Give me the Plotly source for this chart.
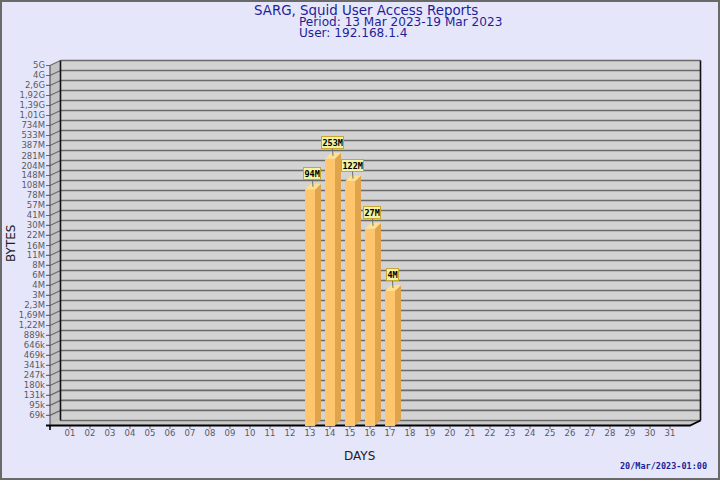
import numpy as np
import plotly.graph_objects as go

# ---------------- data ----------------
days = list(range(1, 32))
day_labels = ["01", "02", "03", "04", "05", "06", "07", "08", "09", "10",
              "11", "12", "13", "14", "15", "16", "17", "18", "19", "20",
              "21", "22", "23", "24", "25", "26", "27", "28", "29", "30", "31"]

y_tick_labels = ["5G", "4G", "2,6G", "1,92G", "1,39G", "1,01G", "734M", "533M", "387M",
                 "281M", "204M", "148M", "108M", "78M", "57M", "41M", "30M", "22M",
                 "16M", "11M", "8M", "6M", "4M", "3M", "2,3M", "1,69M", "1,22M",
                 "889k", "646k", "469k", "341k", "247k", "180k", "131k", "95k", "69k"]
y_tick_values = [5.0e9, 3.63e9, 2.64e9, 1.916e9, 1.392e9, 1.011e9, 734e6, 533e6, 387e6,
                 281e6, 204e6, 148.4e6, 107.8e6, 78.3e6, 56.9e6, 41.3e6, 30.0e6, 21.8e6,
                 15.8e6, 11.5e6, 8.35e6, 6.07e6, 4.41e6, 3.2e6, 2.32e6, 1.687e6, 1.225e6,
                 890e3, 647e3, 470e3, 341e3, 248e3, 180e3, 131e3, 95.1e3, 69.1e3]

bar_days = [13, 14, 15, 16, 17]
bar_bytes = [94e6, 253e6, 122e6, 27e6, 3.7e6]
bar_labels = ["94M", "253M", "122M", "27M", "4M"]

# ---------------- geometry / style ----------------
FLOOR = 5e4
TOP = 5e9
PX_PER_DEC = 72.0
PX_PER_DAY = 20.0
k5 = 10 ** (5 / PX_PER_DEC)     # wall depth (vertical)
WALL_DX = 0.525                 # wall depth (horizontal, days)
k6 = 10 ** (6 / PX_PER_DEC)     # bar depth (vertical)
kt = 10 ** (-3.5 / PX_PER_DEC)  # x tick length (downwards)
BAR_DX = 0.3                    # bar depth (horizontal, days)
BAR_W = 0.5

L, T = 46, 57
PLOT_W, PLOT_H = 657, 373
R = 720 - L - PLOT_W
B = 480 - T - PLOT_H
x_range = [-0.2, -0.2 + PLOT_W / PX_PER_DAY]
y_top_log = np.log10(TOP) + (65.5 - T) / PX_PER_DEC
y_range = [y_top_log - PLOT_H / PX_PER_DEC, y_top_log]

GRID = "#6a6a6a"
BACK = "#d3d3d3"
WALL = "#c2c2c2"
FLOORC = "#c9c9c9"
NAVY = "#1e1e98"
BG = "#e6e6fa"

fig = go.Figure()

def poly(xs, ys, color, axis=("x", "y")):
    fig.add_trace(go.Scatter(x=xs, y=ys, mode="lines", fill="toself", fillcolor=color,
                             line=dict(width=0), hoverinfo="skip", showlegend=False,
                             xaxis=axis[0], yaxis=axis[1]))

def lines(xs, ys, color, width, axis=("x", "y")):
    fig.add_trace(go.Scatter(x=xs, y=ys, mode="lines", line=dict(color=color, width=width),
                             hoverinfo="skip", showlegend=False, connectgaps=False,
                             xaxis=axis[0], yaxis=axis[1]))

xb0, xb1 = WALL_DX, 32 + WALL_DX
# back plane, left wall, floor
poly([xb0, xb1, xb1, xb0], [FLOOR * k5, FLOOR * k5, TOP * k5, TOP * k5], BACK)
poly([0, xb0, xb0, 0], [FLOOR, FLOOR * k5, TOP * k5, TOP], WALL)
poly([0, 32, xb1, xb0], [FLOOR, FLOOR, FLOOR * k5, FLOOR * k5], FLOORC)

# back grid lines
gx, gy = [], []
for t in y_tick_values:
    gx += [xb0, xb1, None]
    gy += [t * k5, t * k5, None]
gx += [xb0, xb1, None]
gy += [FLOOR * k5, FLOOR * k5, None]
lines(gx, gy, GRID, 1.6)

# front ticks + slanted wall lines
sx, sy = [], []
for t in y_tick_values:
    sx += [-0.2, 0, xb0, None]
    sy += [t, t, t * k5, None]
lines(sx, sy, GRID, 1.2)

# x ticks under the floor
tx, ty = [], []
for d in days:
    tx += [d, d, None]
    ty += [FLOOR, FLOOR * kt, None]
lines(tx, ty, "#777777", 1)

# front y axis line
lines([0, 0], [FLOOR, TOP], "#555555", 1.2)
# back plane edges
lines([xb0, xb0], [FLOOR * k5, TOP * k5], "#111111", 1.6)
lines([xb1, xb1], [FLOOR * k5, TOP * k5], "#111111", 1.6)
# floor front edge and right slant, corner tick
lines([-0.2, 32, xb1], [FLOOR, FLOOR, FLOOR * k5], "#000000", 1.8)
lines([0, 0], [FLOOR, FLOOR * kt * kt], "#000000", 1.6)

# ---------------- bars (overlay subplot, drawn above) ----------------
ax2 = ("x2", "y2")
fig.add_trace(go.Bar(x=bar_days, y=[v - FLOOR for v in bar_bytes], base=FLOOR, width=BAR_W,
                     marker=dict(color="#ffc66e", line=dict(width=0)),
                     hoverinfo="skip", showlegend=False, xaxis="x2", yaxis="y2"))
side_x, side_y, top_x, top_y = [], [], [], []
for d, v in zip(bar_days, bar_bytes):
    xr = d + BAR_W / 2
    xl = d - BAR_W / 2
    side_x += [xr, xr, xr + BAR_DX, xr + BAR_DX, xr, None]
    side_y += [FLOOR, v, v * k6, FLOOR * k6, FLOOR, None]
    top_x += [xl, xr, xr + BAR_DX, xl + BAR_DX, xl, None]
    top_y += [v, v, v * k6, v * k6, v, None]
poly(side_x, side_y, "#e0a44c", ax2)
poly(top_x, top_y, "#ffe08c", ax2)

annotations = []
for d, v, lab in zip(bar_days, bar_bytes, bar_labels):
    annotations.append(dict(
        x=d + BAR_DX / 2, y=np.log10(v * 10 ** (3 / PX_PER_DEC)), xref="x2", yref="y2",
        text="<b>" + lab + "</b>", showarrow=True, arrowhead=0, arrowwidth=1,
        arrowcolor="#707070", ax=-1, ay=-13, bgcolor="#f2f2a6", bordercolor="#c8a830",
        borderwidth=1, borderpad=0.5,
        font=dict(family="DejaVu Sans Mono", size=8.5, color="#000000")))

def px2paper(px, py):
    return (px - L) / PLOT_W, (T + PLOT_H - py) / PLOT_H

for txt, (px, py), anchor, size in [
    ("SARG, Squid User Access Reports", (365.5, 10.5), "center", 13.4),
    ("Period: 13 Mar 2023-19 Mar 2023", (297.5, 22), "left", 12.1),
    ("User: 192.168.1.4", (297.5, 33), "left", 12.1),
]:
    xp, yp = px2paper(px, py)
    annotations.append(dict(x=xp, y=yp, xref="paper", yref="paper", text=txt, showarrow=False,
                            xanchor=anchor, yanchor="middle", borderpad=0,
                            font=dict(family="DejaVu Sans", size=size, color=NAVY)))

xp, yp = px2paper(11, 244)
annotations.append(dict(x=xp, y=yp, xref="paper", yref="paper", text="BYTES", textangle=-90,
                        showarrow=False, xanchor="center", yanchor="middle",
                        font=dict(family="DejaVu Sans", size=12, color="#202020")))
xp, yp = px2paper(359.5, 455.5)
annotations.append(dict(x=xp, y=yp, xref="paper", yref="paper", text="DAYS",
                        showarrow=False, xanchor="center", yanchor="middle",
                        font=dict(family="DejaVu Sans", size=12, color="#202020")))
xp, yp = px2paper(708.5, 466)
annotations.append(dict(x=xp, y=yp, xref="paper", yref="paper", text="<b>20/Mar/2023-01:00</b>",
                        showarrow=False, xanchor="right", yanchor="middle",
                        font=dict(family="DejaVu Sans Mono", size=8.5, color=NAVY)))

fig.update_layout(
    width=720, height=480,
    margin=dict(l=L, r=R, t=T, b=B, pad=0, autoexpand=False),
    paper_bgcolor=BG, plot_bgcolor="rgba(0,0,0,0)",
    showlegend=False, bargap=0,
    xaxis=dict(range=x_range, tickvals=days, ticktext=day_labels, ticks="",
               showgrid=False, zeroline=False, showline=False,
               ticklabelstandoff=-4, automargin=False,
               tickfont=dict(family="DejaVu Sans", size=8.5, color="#5a5a5a"), fixedrange=True),
    yaxis=dict(type="log", range=y_range, tickvals=y_tick_values, ticktext=y_tick_labels,
               ticks="", showgrid=False, zeroline=False, showline=False, automargin=False,
               tickfont=dict(family="DejaVu Sans", size=8.5, color="#5a5a5a"), fixedrange=True),
    xaxis2=dict(range=x_range, overlaying="x", anchor="y2", visible=False, fixedrange=True),
    yaxis2=dict(type="log", range=y_range, overlaying="y", anchor="x2", visible=False, fixedrange=True),
    annotations=annotations,
    shapes=[dict(type="rect", xref="paper", yref="paper", xsizemode="pixel", ysizemode="pixel",
                 xanchor=0, yanchor=0, x0=-L + 1, x1=720 - L - 1, y0=-B + 1, y1=T + PLOT_H - 1,
                 line=dict(color="#6a6a6a", width=2), layer="above")],
)

fig.write_html("out.html", config={"displayModeBar": False},
               post_script="document.body.style.margin='0px';document.body.style.overflow='hidden';")
